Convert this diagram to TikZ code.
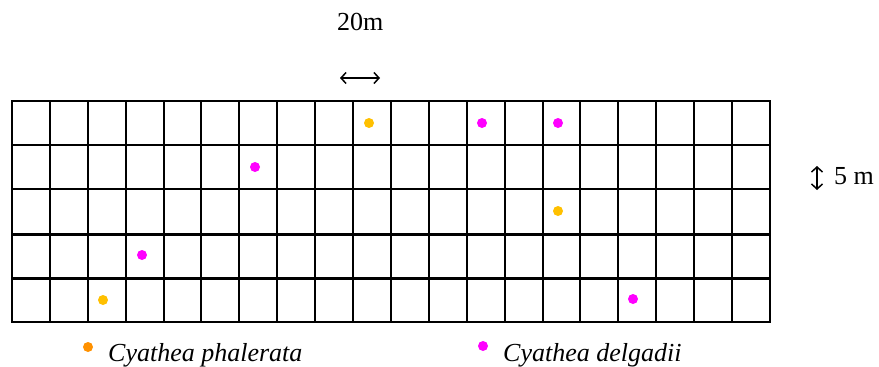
\documentclass[tikz,border=0pt]{standalone}
\usepackage{fontspec}
\setmainfont{Liberation Serif}
\usetikzlibrary{positioning,calc,arrows.meta}
\definecolor{fernGold}   {RGB}{255,192,0}
\definecolor{fernOrange} {RGB}{255,145,0}
\definecolor{fernMagenta}{RGB}{255,0,255}
\tikzstyle{goldDot}    = [circle, fill=fernGold, inner sep=0pt, minimum size=10pt]
\tikzstyle{orangeDot}  = [circle, fill=fernOrange, inner sep=0pt, minimum size=10pt]
\tikzstyle{magentaDot} = [circle, fill=fernMagenta, inner sep=0pt, minimum size=10pt]
\tikzset{
  x=1pt, y=-1pt,
  bigText/.style={font=\fontsize{26}{30}\selectfont, inner sep=0pt, anchor=base west},
  gridLine/.style={line width=2pt},
  scaleArrow/.style={line width=1.5pt, {Straight Barb[length=5pt,width=11pt]}-{Straight Barb[length=5pt,width=11pt]}}
}
\begin{document}
\begin{tikzpicture}
			\useasboundingbox (0,0) rectangle (879,367);
			\foreach \i in {0,...,20}
				\draw[gridLine] ({round(12+37.9*\i)},101) -- ({round(12+37.9*\i)},322);
			\foreach \j/\w in {0/2,1/2,2/2,3/3,4/3,5/2}
				\draw[line width=\w pt] (11,{round(101+44.2*\j)}) -- (771,{round(101+44.2*\j)});
			\node[goldDot]    (phal1) at (369,123) {};
			\node[goldDot]    (phal2) at (558,211) {};
			\node[goldDot]    (phal3) at (103,300) {};
			\node[magentaDot] (delg1) at (482,123) {};
			\node[magentaDot] (delg2) at (558,123) {};
			\node[magentaDot] (delg3) at (255,167) {};
			\node[magentaDot] (delg4) at (142,255) {};
			\node[magentaDot] (delg5) at (633,299) {};
			\node[bigText]    (widthText)  at (337,30) {20m};
			\coordinate (widthL) at (340,78);
			\coordinate (widthR) at (380,78);
			\draw[scaleArrow] (widthL) -- (widthR);
			\coordinate (heightT) at (817,166);
			\coordinate (heightB) at (817,190);
			\draw[scaleArrow] (heightT) -- (heightB);
			\node[bigText]    (heightText) at (834,184) {5 m};
			\node[orangeDot]  (keyPhal) at (88,347) {};
			\node[bigText]    (keyPhalText) at (108,361) {\itshape Cyathea phalerata};
			\node[magentaDot] (keyDelg) at (483,346) {};
			\node[bigText]    (keyDelgText) at (503,361) {\itshape Cyathea delgadii};
		\end{tikzpicture}
\end{document}
